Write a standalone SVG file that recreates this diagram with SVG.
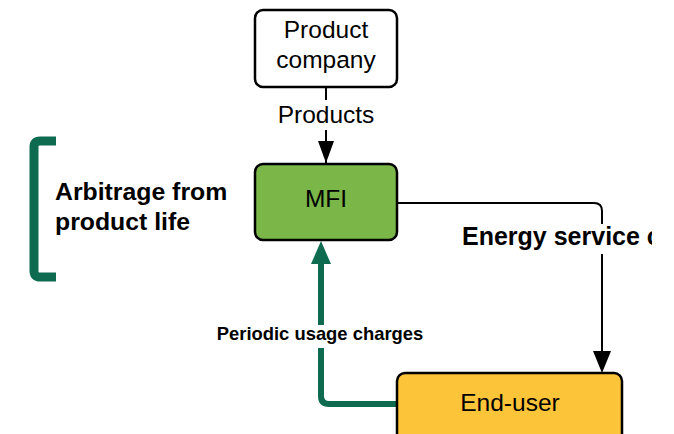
<svg xmlns="http://www.w3.org/2000/svg" width="674" height="434" viewBox="0 0 674 434">
<style>
.box{stroke:#000;stroke-width:2.5}
.t{font-family:"Liberation Sans",Arial,sans-serif;font-size:24.5px;fill:#000;text-anchor:middle}
.b{font-family:"Liberation Sans",Arial,sans-serif;font-weight:bold;fill:#000}
.lbl{fill:#fff}
</style>
<defs>
<clipPath id="cut"><rect x="0" y="0" width="652" height="434"/></clipPath>
</defs>
<rect width="674" height="434" fill="#fff"/>
<g id="connectors" fill="none">
<path d="M326,87 V163" stroke="#000" stroke-width="2"/>
<path d="M326,163 L334,141 L318,141 Z" fill="#000" stroke="none"/>
<path d="M397,203 H594 Q602,203 602,211 V352" stroke="#000" stroke-width="2"/>
<path d="M602,373 L593,351 L611,351 Z" fill="#000"/>
<path d="M397,404 H329 Q321,404 321,396 V262" stroke="#0e6b4f" stroke-width="6"/>
<path d="M321,241 L331,264 L311,264 Z" fill="#0e6b4f"/>
<rect class="lbl" x="272" y="100" width="108" height="30"/>
<rect class="lbl" x="458" y="224" width="194" height="30"/>
<rect class="lbl" x="212" y="325" width="216" height="23"/>
<text class="t" x="326" y="123">Products</text>
<text class="b" x="462" y="245" font-size="25" clip-path="url(#cut)">Energy service c</text>
<text class="b" x="320" y="340" font-size="18.4" text-anchor="middle">Periodic usage charges</text>
</g>
<g id="bracket">
<path d="M56,141 H40 Q34,141 34,147 V271 Q34,277 40,277 H56" fill="none" stroke="#0e6b4f" stroke-width="9"/>
<text class="b" x="55" y="200" font-size="24.8">Arbitrage from</text>
<text class="b" x="55" y="230" font-size="24.8">product life</text>
</g>
<g id="product-company">
<rect class="box" x="255" y="10" width="142" height="77" rx="8" fill="#fff"/>
<text class="t" x="326" y="38">Product</text>
<text class="t" x="326" y="68">company</text>
</g>
<g id="mfi">
<rect class="box" x="255" y="164" width="142" height="76" rx="8" fill="#7ab648"/>
<text class="t" x="326" y="207">MFI</text>
</g>
<g id="end-user">
<rect class="box" x="397" y="373" width="225" height="80" rx="8" fill="#fcc438"/>
<text class="t" x="510" y="411">End-user</text>
</g>
</svg>
